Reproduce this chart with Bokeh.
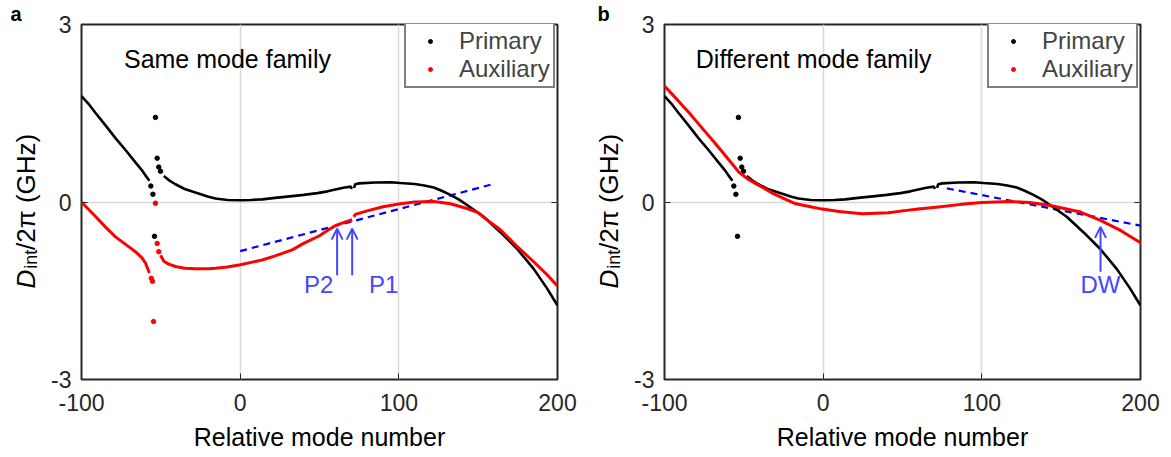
from math import pi
from bokeh.plotting import figure
from bokeh.models import (Range1d, LinearAxis, Label, Arrow, OpenHead, Legend,
                          LegendItem, FixedTicker)
from bokeh.core.properties import value
from bokeh.layouts import row
from bokeh.embed import file_html
from bokeh.resources import INLINE

# ---------------- data ----------------
x_ticks = [-100, 0, 100, 200]
y_ticks = [-3, 0, 3]
x_tick_text = {-100: "-100", 0: "0", 100: "100", 200: "200"}
y_tick_text = {-3: "-3", 0: "0", 3: "3"}
x_label = "Relative mode number"

# Primary mode family (same in both panels)
prim_left_x = [-100, -95, -91, -85, -78.6, -72, -66, -62, -59.7, -57.2]
prim_left_y = [1.79, 1.64, 1.50, 1.30, 1.08, 0.87, 0.67, 0.54, 0.45, 0.36]
prim_mid_x = [-48.1, -45, -40.8, -35, -28.2, -20, -15.6, -8, 0.2, 7, 13.9, 22,
              32.8, 40, 48.7, 55, 60, 65, 69.7, 70.5]
prim_mid_y = [0.44, 0.37, 0.30, 0.22, 0.16, 0.09, 0.06, 0.035, 0.03, 0.035, 0.045,
              0.07, 0.10, 0.12, 0.15, 0.18, 0.21, 0.24, 0.26, 0.22]
prim_right_x = [71.8, 72.5, 75, 85, 95, 101, 110, 116, 122, 127, 132.5, 138, 143,
                153.5, 164, 174.5, 185, 193.4, 200]
prim_right_y = [0.24, 0.30, 0.315, 0.33, 0.335, 0.32, 0.305, 0.28, 0.245, 0.19,
                0.12, 0.04, -0.05, -0.25, -0.51, -0.79, -1.13, -1.46, -1.75]
prim_pts_x = [-56.3, -55, -53.4, -52.3, -51.3, -50.2, -54]
prim_pts_y = [0.27, 0.13, 1.43, 0.74, 0.59, 0.52, -0.58]

# Auxiliary, panel a (same mode family)
auxa_left_x = [-100, -95, -91, -85, -78.6, -72, -66, -62, -59.7, -57.2]
auxa_left_y = [0.0, -0.14, -0.25, -0.42, -0.59, -0.72, -0.84, -0.94, -1.03, -1.2]
auxa_mid_x = [-50.2, -48.1, -45, -40.8, -35, -28.2, -20, -15.6, -8, 0.2, 7, 13.9,
              22, 32.8, 40, 50, 55, 60, 65, 70.6]
auxa_mid_y = [-0.90, -1.0, -1.05, -1.09, -1.12, -1.13, -1.13, -1.12, -1.10, -1.06,
              -1.02, -0.98, -0.91, -0.81, -0.70, -0.57, -0.48, -0.40, -0.35, -0.30]
auxa_right_x = [71.6, 72.6, 80, 90, 101, 110, 122, 132.5, 143, 150, 153.5, 164,
                174.5, 185, 193.4, 200]
auxa_right_y = [-0.25, -0.21, -0.15, -0.08, -0.03, 0.00, 0.01, -0.03, -0.11,
                -0.18, -0.26, -0.47, -0.75, -1.01, -1.23, -1.42]
auxa_pts_x = [-56, -55.3, -54.6, -53.4, -52.3, -51.3]
auxa_pts_y = [-1.29, -1.34, -2.02, -0.02, -0.70, -0.84]

# Auxiliary, panel b (different mode family)
auxb_x = [-100, -92, -84.5, -76, -67.7, -60, -53, -47, -42.5, -37, -32, -25,
          -17.3, -8, -0.6, 10, 24.6, 41.4, 50, 60, 74, 87, 100, 118, 130, 143.3,
          152, 162.2, 174.8, 187.4, 200]
auxb_y = [1.96, 1.73, 1.51, 1.24, 0.98, 0.73, 0.50, 0.38, 0.31, 0.23, 0.15, 0.06,
          -0.03, -0.08, -0.12, -0.16, -0.20, -0.18, -0.15, -0.12, -0.08, -0.04,
          -0.01, 0.01, -0.01, -0.06, -0.11, -0.17, -0.31, -0.48, -0.69]

# dashed guide lines
dash_a_x = [0, 159]
dash_a_y = [-0.83, 0.30]
dash_b_x = [78, 200]
dash_b_y = [0.23, -0.40]

# arrows (x, y_start, y_end) and their labels (text, x, y)
arrows_a = [(61.1, -1.24, -0.45), (70.6, -1.24, -0.45)]
labels_a = [("P2", 49.5, -1.40), ("P1", 90.5, -1.40)]
arrows_b = [(174.8, -1.18, -0.42)]
labels_b = [("DW", 174.8, -1.40)]

titles = ["Same mode family", "Different mode family"]
title_pos = [(-8, 2.41), (-6, 2.41)]
panel_letters = ["a", "b"]
legend_labels = ["Primary", "Auxiliary"]
ylab_main, ylab_sub, ylab_rest = "D", "int", " /2π (GHz)"

FONT = "Liberation Sans"
AXC = "#262626"
BLUE = "#0000FF"
ABLUE = "#4646FF"
RED = "#FF0000"

FIG_H = 449
TOP = 21
BOTTOM = 70
FRAME_H = 355
FRAME_TOP_PX = 25      # page y of the frame top (frames are aligned in a row)
FRAME_BOT_PX = FRAME_TOP_PX + FRAME_H


def make_label_fig(width, base_x, letter, letter_offset):
    """Narrow strip left of a panel: panel letter (as its title) and the
    composed y-axis label. Its frame is aligned with the panel frame."""
    f = figure(width=width, height=FIG_H, x_range=Range1d(0, width),
               y_range=Range1d(FRAME_BOT_PX, FRAME_TOP_PX), min_border=0,
               x_axis_location=None, y_axis_location=None,
               output_backend="svg", toolbar_location=None, title=letter)
    f.title.text_font = FONT
    f.title.text_font_size = "20px"
    f.title.text_font_style = "bold"
    f.title.text_color = "black"
    f.title.align = "left"
    f.title.offset = letter_offset
    f.title.standoff = 0
    f.xgrid.visible = False
    f.ygrid.visible = False
    f.outline_line_color = None
    y0 = 292
    f.text(x=[base_x], y=[y0], text=[ylab_main], angle=pi / 2,
           text_font=value(FONT), text_font_size="26px",
           text_font_style="italic", text_baseline="alphabetic",
           text_align="left", text_color="black")
    f.text(x=[base_x + 5], y=[y0 - 20], text=[ylab_sub], angle=pi / 2,
           text_font=value(FONT), text_font_size="18px",
           text_baseline="alphabetic", text_align="left", text_color="black")
    f.text(x=[base_x], y=[y0 - 39], text=[ylab_rest], angle=pi / 2,
           text_font=value(FONT), text_font_size="26px",
           text_baseline="alphabetic", text_align="left", text_color="black")
    return f


def make_panel(idx, bl, br, aux_lines, aux_pts, aux_pt_size, dash_x, dash_y,
               arrows, labels):
    p = figure(frame_width=476, frame_height=FRAME_H,
               x_range=Range1d(-100, 200), y_range=Range1d(-3, 3),
               min_border_left=bl, min_border_right=br, min_border_top=TOP,
               min_border_bottom=BOTTOM, output_backend="svg",
               toolbar_location=None, x_axis_label=x_label)
    p.background_fill_color = "white"
    p.outline_line_color = AXC
    p.outline_line_width = 2
    p.outline_line_alpha = 1

    p.xaxis.ticker = FixedTicker(ticks=x_ticks)
    p.yaxis.ticker = FixedTicker(ticks=y_ticks)
    p.xaxis.major_label_overrides = x_tick_text
    p.yaxis.major_label_overrides = y_tick_text
    for ax in (p.xaxis[0], p.yaxis[0]):
        ax.axis_line_color = None
        ax.major_tick_in = 6
        ax.major_tick_out = 0
        ax.major_tick_line_color = AXC
        ax.minor_tick_line_color = None
        ax.major_label_text_font = FONT
        ax.major_label_text_font_size = "23px"
        ax.major_label_text_color = AXC
        ax.axis_label_text_font = FONT
        ax.axis_label_text_font_size = "25px"
        ax.axis_label_text_font_style = "normal"
        ax.axis_label_text_color = "black"
    p.xaxis.major_label_standoff = 14
    p.xaxis.axis_label_standoff = 9
    p.yaxis.major_label_standoff = 10
    p.yaxis.axis_label = None

    ax = LinearAxis(ticker=FixedTicker(ticks=y_ticks), axis_line_color=None,
                    major_tick_in=6, major_tick_out=0,
                    major_tick_line_color=AXC, minor_tick_line_color=None,
                    major_label_text_color=None,
                    major_label_text_font_size="1px", major_label_standoff=0)
    p.add_layout(ax, "right")

    p.xgrid.ticker = FixedTicker(ticks=x_ticks)
    p.ygrid.ticker = FixedTicker(ticks=y_ticks)
    for g in (p.xgrid[0], p.ygrid[0]):
        g.grid_line_color = "#d9d9d9"
        g.grid_line_width = 1.5

    # dashed guide line
    p.line(dash_x, dash_y, line_color=BLUE, line_width=2.2, line_dash="7 5")

    # primary
    for xs, ys in ((prim_left_x, prim_left_y), (prim_mid_x, prim_mid_y),
                   (prim_right_x, prim_right_y)):
        p.line(xs, ys, line_color="black", line_width=2.6)
    rp = p.scatter(prim_pts_x, prim_pts_y, size=4.5, color="black")

    # auxiliary
    for xs, ys in aux_lines:
        p.line(xs, ys, line_color=RED, line_width=3)
    ra = p.scatter(aux_pts[0], aux_pts[1], size=aux_pt_size, color=RED)

    # arrows & labels
    for ax_, y0, y1 in arrows:
        p.add_layout(Arrow(end=OpenHead(size=11, line_color=ABLUE, line_width=2),
                           x_start=ax_, y_start=y0, x_end=ax_, y_end=y1,
                           line_color=ABLUE, line_width=2))
    for t, lx, ly in labels:
        p.add_layout(Label(x=lx, y=ly, text=t, text_align="center",
                           text_baseline="alphabetic", text_font=FONT,
                           text_font_size="24px", text_color=ABLUE))

    tx, ty = title_pos[idx]
    p.add_layout(Label(x=tx, y=ty, text=titles[idx], text_align="center",
                       text_baseline="alphabetic", text_font=FONT,
                       text_font_size="25px", text_color="black"))

    legend = Legend(items=[LegendItem(label=legend_labels[0], renderers=[rp]),
                           LegendItem(label=legend_labels[1], renderers=[ra])],
                    location=(323, 291))
    legend.label_text_font = FONT
    legend.label_text_font_size = "24px"
    legend.label_text_line_height = 0.9
    legend.border_line_color = "black"
    legend.border_line_width = 2
    legend.padding = 3
    legend.spacing = 0
    legend.glyph_width = 42
    legend.glyph_height = 10
    legend.label_height = 26
    legend.label_standoff = 8
    legend.margin = 0
    legend.background_fill_alpha = 1
    p.add_layout(legend)
    return p


la = make_label_fig(46, 25, panel_letters[0], 10)
pa = make_panel(0, 35, 36,
                [(auxa_left_x, auxa_left_y), (auxa_mid_x, auxa_mid_y),
                 (auxa_right_x, auxa_right_y)],
                (auxa_pts_x, auxa_pts_y), 4.5, dash_a_x, dash_a_y,
                arrows_a, labels_a)
lb = make_label_fig(36, 15, panel_letters[1], 4)
pb = make_panel(1, 35, 20, [(auxb_x, auxb_y)], (auxb_x, auxb_y), 2,
                dash_b_x, dash_b_y, arrows_b, labels_b)

layout = row(la, pa, lb, pb, spacing=0)
open("out.html", "w").write(file_html(layout, INLINE))
